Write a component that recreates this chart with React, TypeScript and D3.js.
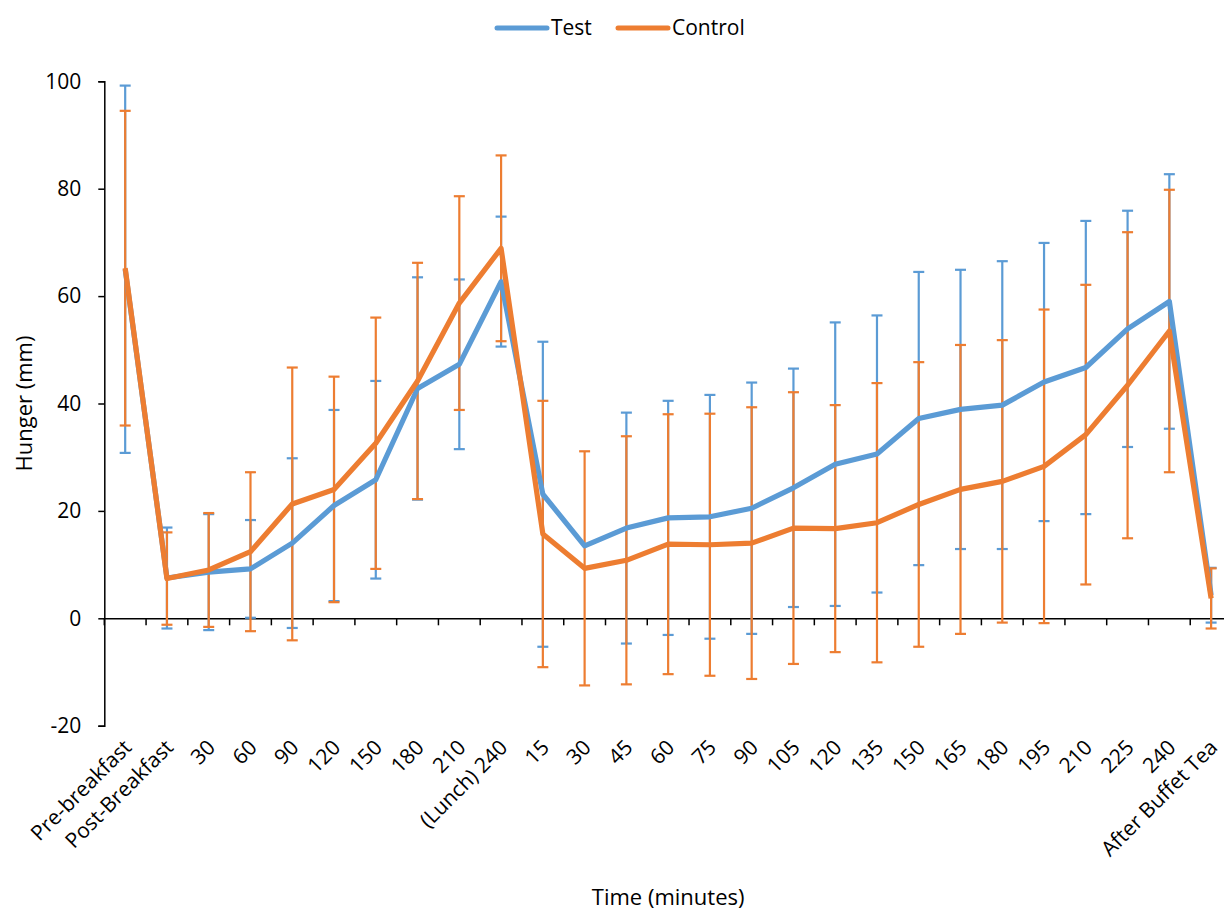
import { useRef, useEffect } from "react";
import * as d3 from "d3";

const labels = [
  "Pre-breakfast", "Post-Breakfast", "30", "60", "90", "120", "150", "180", "210",
  "(Lunch) 240", "15", "30", "45", "60", "75", "90", "105", "120", "135", "150",
  "165", "180", "195", "210", "225", "240", "After Buffet Tea",
];

const testMean = [
  65.0, 7.5, 8.6, 9.2, 14.0, 21.0, 25.8, 42.8, 47.3, 62.7, 23.1, 13.5, 16.8, 18.7,
  18.9, 20.5, 24.3, 28.7, 30.6, 37.2, 38.9, 39.7, 44.0, 46.7, 53.9, 59.0, 4.3,
];
// no visible Test error bar at the second "30"
const testSD = [
  34.2, 9.4, 10.8, 9.1, 15.8, 17.8, 18.4, 20.7, 15.8, 12.1, 28.4, null, 21.5, 21.8,
  22.7, 23.4, 22.2, 26.4, 25.8, 27.3, 26.0, 26.8, 25.9, 27.3, 22.0, 23.7, 5.1,
];

const controlMean = [
  65.2, 7.4, 9.0, 12.4, 21.3, 24.0, 32.6, 44.2, 58.7, 68.9, 15.7, 9.3, 10.8, 13.8,
  13.7, 14.0, 16.8, 16.7, 17.8, 21.2, 24.0, 25.5, 28.3, 34.2, 43.4, 53.5, 3.7,
];
const controlSD = [
  29.3, 8.6, 10.6, 14.8, 25.4, 21.0, 23.4, 22.0, 19.9, 17.3, 24.8, 21.8, 23.1, 24.2,
  24.4, 25.3, 25.3, 23.0, 26.0, 26.5, 26.9, 26.3, 29.2, 27.9, 28.5, 26.3, 5.6,
];

const yTicks = [-20, 0, 20, 40, 60, 80, 100];

const series = [
  { name: "Test", mean: testMean, sd: testSD, color: "#5B9BD5" },
  { name: "Control", mean: controlMean, sd: controlSD, color: "#ED7D31" },
];

function App() {
  const svgRef = useRef<SVGSVGElement>(null);

  useEffect(() => {
    const w = 1224;
    const h = 912;
    const font = "'Open Sans', Lato, sans-serif";
    const svg = d3.select(svgRef.current).attr("width", w).attr("height", h);
    svg.selectAll("*").remove();

    // scales
    const x = d3
      .scaleBand<number>()
      .domain(d3.range(labels.length))
      .range([104.3, 1232])
      .padding(0);
    const cx = (i: number) => (x(i) as number) + x.bandwidth() / 2;

    const y = d3.scaleLinear().domain([-20, 100]).range([725.7, 81.3]);

    // y axis
    const yAxis = d3
      .axisLeft(y)
      .tickValues(yTicks)
      .tickFormat((d) => String(d))
      .tickSize(6)
      .tickPadding(17);
    const gy = svg.append("g").attr("transform", "translate(104.3,0)").call(yAxis);
    gy.select(".domain").attr("stroke", "#000").attr("stroke-width", 1.5);
    gy.selectAll(".tick line").attr("stroke", "#000").attr("stroke-width", 1.5);
    gy.selectAll(".tick text")
      .attr("font-family", font)
      .attr("font-size", 21)
      .attr("fill", "#000");

    // x axis at zero
    const xAxis = d3
      .axisBottom(x)
      .tickSize(0)
      .tickFormat(() => "");
    const gx = svg.append("g").attr("transform", `translate(0,${y(0)})`).call(xAxis);
    gx.select(".domain").attr("stroke", "#000").attr("stroke-width", 1.5);
    gx.selectAll(".tick").remove();

    // tick marks on category boundaries
    svg
      .append("g")
      .selectAll("line")
      .data(d3.range(labels.length + 1))
      .join("line")
      .attr("x1", (i) => (i < labels.length ? (x(i) as number) : x.range()[1]))
      .attr("x2", (i) => (i < labels.length ? (x(i) as number) : x.range()[1]))
      .attr("y1", y(0))
      .attr("y2", y(0) + 7)
      .attr("stroke", "#000")
      .attr("stroke-width", 1.5);

    // rotated category labels
    svg
      .append("g")
      .selectAll("text")
      .data(labels)
      .join("text")
      .attr("transform", (d, i) => `translate(${cx(i) - 3},${738}) rotate(-45)`)
      .attr("text-anchor", "end")
      .attr("dy", "0.72em")
      .attr("font-family", font)
      .attr("font-size", 21)
      .attr("fill", "#000")
      .text((d) => d);

    // error bars first, then lines
    series.forEach((s) => {
      const g = svg.append("g");
      s.mean.forEach((m, i) => {
        const sd = s.sd[i];
        if (sd == null) return;
        const top = y(m + sd);
        const bot = y(m - sd);
        const xc = cx(i);
        g.append("line")
          .attr("x1", xc).attr("x2", xc)
          .attr("y1", top).attr("y2", bot)
          .attr("stroke", s.color).attr("stroke-width", 2.2);
        [top, bot].forEach((yy) => {
          g.append("line")
            .attr("x1", xc - 5.5).attr("x2", xc + 5.5)
            .attr("y1", yy).attr("y2", yy)
            .attr("stroke", s.color).attr("stroke-width", 2.2);
        });
      });
    });

    const line = d3
      .line<number>()
      .x((d, i) => cx(i))
      .y((d) => y(d));

    series.forEach((s) => {
      svg
        .append("path")
        .datum(s.mean)
        .attr("d", line)
        .attr("fill", "none")
        .attr("stroke", s.color)
        .attr("stroke-width", 5.2)
        .attr("stroke-linejoin", "round");
    });

    // axis titles
    svg
      .append("text")
      .attr("transform", `translate(24,${(y(100) + y(-20)) / 2}) rotate(-90)`)
      .attr("text-anchor", "middle")
      .attr("dy", "0.35em")
      .attr("font-family", font)
      .attr("font-size", 22)
      .text("Hunger (mm)");

    svg
      .append("text")
      .attr("x", (x.range()[0] + x.range()[1]) / 2)
      .attr("y", 905)
      .attr("text-anchor", "middle")
      .attr("font-family", font)
      .attr("font-size", 22)
      .text("Time (minutes)");

    // legend
    const legendPos = [495, 616];
    const legend = svg
      .append("g")
      .selectAll("g")
      .data(series)
      .join("g")
      .attr("transform", (d, i) => `translate(${legendPos[i]},28)`);
    legend
      .append("line")
      .attr("x1", 2).attr("x2", 52)
      .attr("stroke", (d) => d.color)
      .attr("stroke-width", 5)
      .attr("stroke-linecap", "round");
    legend
      .append("text")
      .attr("x", 56)
      .attr("dy", "0.35em")
      .attr("font-family", font)
      .attr("font-size", 21)
      .text((d) => d.name);
  }, []);

  return (
    <svg
      ref={svgRef}
      style={{ position: "absolute", left: 0, top: 0, background: "#fff" }}
    ></svg>
  );
}

export default App;
